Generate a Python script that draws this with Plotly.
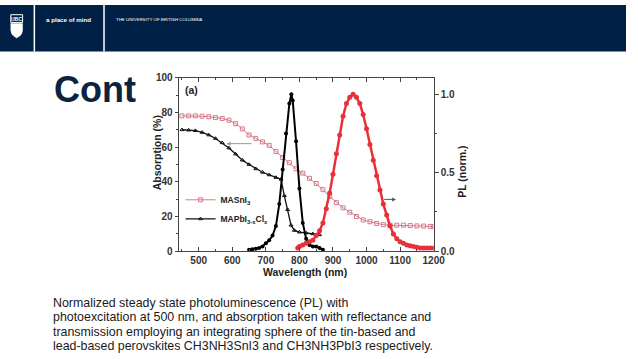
import plotly.graph_objects as go

W, H = 638, 359

# ---------------- data ----------------
wl_sn_abs = [450, 470, 490, 510, 530, 550, 570, 590, 610, 630, 650, 670, 690, 710, 730, 750,
             770, 790, 810, 830, 850, 870, 890, 910, 930, 950, 970, 990, 1010, 1030, 1050,
             1070, 1090, 1110, 1130, 1150, 1170, 1190, 1200]
abs_sn = [78, 78, 78, 77.8, 77.5, 77, 76.5, 75.5, 73.5, 70.5, 67, 65, 63, 61, 57.5, 54,
          51, 47.5, 45, 42, 39, 35.5, 31.5, 28, 25, 22.5, 20, 18, 17, 16, 15.3,
          15, 15, 15, 14.8, 14.6, 14.5, 14.3, 14.2]

wl_pb_abs = [450, 470, 490, 510, 530, 550, 570, 590, 610, 630, 650, 670, 690, 710, 730, 745,
             755, 765, 775, 785, 800, 820, 840, 860]
abs_pb = [70, 69.8, 69.5, 68.5, 67, 65, 62.5, 59.5, 56, 52.5, 50, 47.5, 45.5, 44, 42.5, 41.5,
          32, 24, 15, 12, 11, 10.5, 10, 9.5]

wl_pb_pl = [650, 660, 670, 680, 690, 700, 710, 720, 730, 740, 750, 760, 770, 776, 780, 790,
            800, 810, 820, 830, 840, 850, 860, 870]
pl_pb = [0.01, 0.012, 0.015, 0.02, 0.03, 0.05, 0.07, 0.1, 0.16, 0.3, 0.52, 0.75, 0.94, 1.0, 0.96, 0.7,
         0.4, 0.18, 0.08, 0.04, 0.03, 0.03, 0.02, 0.01]

wl_sn_pl = [795, 800, 810, 820, 830, 840, 850, 860, 870, 880, 890, 900, 910, 920, 930, 940,
            950, 960, 970, 980, 990, 1000, 1010, 1020, 1030, 1040, 1050, 1060, 1070, 1080,
            1090, 1100, 1110, 1120, 1130, 1140, 1150, 1160, 1170, 1180, 1190, 1200]
pl_sn = [0.02, 0.03, 0.04, 0.05, 0.06, 0.07, 0.1, 0.13, 0.18, 0.27, 0.37, 0.49, 0.62, 0.74, 0.86, 0.94,
         0.98, 1.0, 0.98, 0.94, 0.87, 0.78, 0.68, 0.58, 0.48, 0.39, 0.3, 0.23, 0.16, 0.11,
         0.08, 0.06, 0.05, 0.04, 0.035, 0.03, 0.025, 0.02, 0.02, 0.02, 0.02, 0.02]

x_ticks = [500, 600, 700, 800, 900, 1000, 1100, 1200]
left_ticks = [0, 20, 40, 60, 80, 100]
right_ticks = [0.0, 0.5, 1.0]

caption_lines = [
    "Normalized steady state photoluminescence (PL) with",
    "photoexcitation at 500 nm, and absorption taken with reflectance and",
    "transmission employing an integrating sphere of the tin-based and",
    "lead-based perovskites CH3NH3SnI3 and CH3NH3PbI3 respectively.",
]

# ---------------- helpers ----------------
def px(x):
    return x / W


def py(y):
    return 1 - y / H


FONT = "Liberation Sans, Arial, sans-serif"
NAVY = "#002145"
AX = "#444444"

fig = go.Figure()

fig.add_trace(go.Scatter(
    x=wl_sn_abs, y=abs_sn, mode="lines+markers", name="MASnI<sub>3</sub>",
    line=dict(color="#d77a8a", width=1),
    marker=dict(symbol="square-open", size=4, color="#d77a8a", line=dict(width=1)),
    yaxis="y"))
fig.add_trace(go.Scatter(
    x=wl_pb_abs, y=abs_pb, mode="lines+markers", name="MAPbI<sub>3-x</sub>Cl<sub>x</sub>",
    line=dict(color="#111111", width=1.3),
    marker=dict(symbol="triangle-up-open", size=3.5, color="#111111", line=dict(width=1)),
    yaxis="y"))
fig.add_trace(go.Scatter(
    x=wl_pb_pl, y=pl_pb, mode="lines+markers", showlegend=False,
    line=dict(color="#000000", width=2),
    marker=dict(symbol="circle", size=4, color="#000000"),
    yaxis="y2"))
fig.add_trace(go.Scatter(
    x=wl_sn_pl, y=pl_sn, mode="lines+markers", showlegend=False,
    line=dict(color="#e8303a", width=2.5),
    marker=dict(symbol="circle", size=5, color="#e8303a"),
    yaxis="y2"))

tickfont = dict(family=FONT, size=10, color="#333333", weight="bold")

fig.update_layout(
    width=W, height=H, autosize=False,
    margin=dict(l=0, r=0, t=0, b=0),
    paper_bgcolor="white", plot_bgcolor="white",
    xaxis=dict(
        domain=[px(182), px(442)], range=[440, 1200],
        showline=True, linecolor=AX, linewidth=1, mirror="ticks",
        ticks="inside", ticklen=4, tickcolor=AX,
        tickvals=x_ticks, ticktext=[str(v) for v in x_ticks],
        minor=dict(dtick=50, ticks="inside", ticklen=2.5, tickcolor=AX),
        tickfont=tickfont, showgrid=False, zeroline=False,
    ),
    yaxis=dict(
        domain=[py(254), py(75)], range=[0, 100],
        showline=True, linecolor=AX, linewidth=1,
        ticks="outside", ticklen=3, tickcolor=AX,
        tickvals=left_ticks, ticktext=[str(v) for v in left_ticks],
        minor=dict(dtick=10, ticks="outside", ticklen=2, tickcolor=AX),
        tickfont=tickfont, showgrid=False, zeroline=False,
    ),
    yaxis2=dict(
        overlaying="y", side="right", anchor="x", range=[0, 1.105],
        showline=True, linecolor=AX, linewidth=1,
        ticks="outside", ticklen=4, tickcolor=AX,
        tickvals=right_ticks, ticktext=["%.1f" % v for v in right_ticks],
        minor=dict(dtick=0.25, ticks="outside", ticklen=2, tickcolor=AX),
        tickfont=tickfont, showgrid=False, zeroline=False,
    ),
    legend=dict(
        x=px(184), y=py(186), xanchor="left", yanchor="top",
        bgcolor="rgba(0,0,0,0)", borderwidth=0,
        font=dict(family=FONT, size=8.5, color="#222222", weight="bold"),
        itemwidth=30, tracegroupgap=0,
    ),
    showlegend=True,
)

shapes = []
# header bar
shapes.append(dict(type="rect", xref="paper", yref="paper", x0=0, x1=1, y0=py(48), y1=1,
                   fillcolor=NAVY, line=dict(width=0), layer="below"))
for xv in (35, 106):
    shapes.append(dict(type="line", xref="paper", yref="paper", x0=px(xv), x1=px(xv),
                       y0=py(48), y1=1, line=dict(color="white", width=1.5)))
# logo
shapes.append(dict(type="rect", xref="paper", yref="paper", x0=px(11), x1=px(23),
                   y0=py(18), y1=py(10), line=dict(color="white", width=1),
                   fillcolor="rgba(0,0,0,0)"))
shield = "M {a},{b} L {c},{b} L {c},{d} Q {c},{e} {m},{f} Q {a},{e} {a},{d} Z".format(
    a=px(11), c=px(23), b=py(19), d=py(26), e=py(31), f=py(34), m=px(17))
shapes.append(dict(type="path", xref="paper", yref="paper", path=shield,
                   fillcolor="white", line=dict(color="white", width=0.5)))
fig.update_layout(shapes=shapes)

ann = []
ann.append(dict(text="UBC", x=px(17), y=py(14), xref="paper", yref="paper", showarrow=False,
                font=dict(family=FONT, size=5, color="white", weight="bold"),
                xanchor="center", yanchor="middle"))
ann.append(dict(text="a place of mind", x=px(45), y=py(14.5), xref="paper", yref="paper",
                showarrow=False, font=dict(family=FONT, size=6.2, color="white", weight="bold"),
                xanchor="left", yanchor="middle"))
ann.append(dict(text="THE UNIVERSITY OF BRITISH COLUMBIA", x=px(116), y=py(14.5),
                xref="paper", yref="paper", showarrow=False,
                font=dict(family=FONT, size=4.4, color="white"),
                xanchor="left", yanchor="middle"))
# slide title (partly hidden by the picture in the reference)
ann.append(dict(text="Cont", x=px(53), y=py(87), xref="paper", yref="paper", showarrow=False,
                font=dict(family=FONT, size=36, color="#0c2340", weight="bold"),
                xanchor="left", yanchor="middle"))
# chart texts
ann.append(dict(text="(a)", x=px(186), y=py(88), xref="paper", yref="paper", showarrow=False,
                font=dict(family=FONT, size=10.5, color="#222222", weight="bold"),
                xanchor="left", yanchor="middle"))
ann.append(dict(text="Absorption (%)", x=px(160), y=py(152), xref="paper", yref="paper",
                showarrow=False, textangle=-90,
                font=dict(family=FONT, size=10.5, color="#222222", weight="bold"),
                xanchor="center", yanchor="middle"))
ann.append(dict(text="PL (norm.)", x=px(471), y=py(172), xref="paper", yref="paper",
                showarrow=False, textangle=-90,
                font=dict(family=FONT, size=10.5, color="#222222", weight="bold"),
                xanchor="center", yanchor="middle"))
ann.append(dict(text="Wavelength (nm)", x=px(311), y=py(275), xref="paper", yref="paper",
                showarrow=False,
                font=dict(family=FONT, size=10.5, color="#222222", weight="bold"),
                xanchor="center", yanchor="middle"))
# arrows pointing to the axes
ann.append(dict(text="", x=583, y=62, ax=662, ay=62, xref="x", yref="y", axref="x", ayref="y",
                showarrow=True, arrowhead=2, arrowsize=0.8, arrowwidth=1, arrowcolor="#999999"))
ann.append(dict(text="", x=1088, y=0.33, ax=1048, ay=0.33, xref="x", yref="y2", axref="x",
                ayref="y2", showarrow=True, arrowhead=2, arrowsize=0.8, arrowwidth=1,
                arrowcolor="#555555"))
# caption
for i, line in enumerate(caption_lines):
    ann.append(dict(text=line, x=px(52), y=py(307.5 + i * 14.8), xref="paper", yref="paper",
                    showarrow=False, font=dict(family=FONT, size=12.4, color="#1a1a1a"),
                    xanchor="left", yanchor="middle"))
fig.update_layout(annotations=ann)

fig.write_html(
    "out.html",
    config={"displayModeBar": False},
    post_script="document.body.style.margin='0';document.body.style.overflow='hidden';",
)
